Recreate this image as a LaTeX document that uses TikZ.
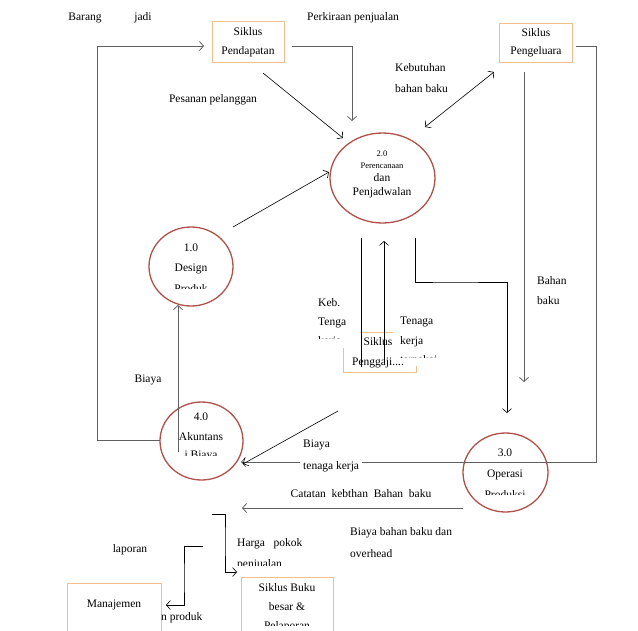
\documentclass[tikz,border=0pt]{standalone}
\usepackage{fontspec}
\setmainfont{Liberation Serif}
\usetikzlibrary{arrows.meta,shapes.geometric}
\definecolor{circ}{HTML}{B0504B}
\definecolor{boxc}{HTML}{F0C08C}
\definecolor{ln}{HTML}{606060}
\newcommand{\cliptxt}[5]{\begin{scope}\clip (#2-60,#3-12) rectangle (#2+60,#4);\node[txt] (#1) at (#2,#3) {#5};\end{scope}}
\newcommand{\cliptxtw}[5]{\begin{scope}\clip (#2-5,#3-12) rectangle (#2+80,#4);\node[txt,anchor=west] (#1) at (#2,#3) {#5};\end{scope}}
\begin{document}
\begin{tikzpicture}[x=1pt,y=-1pt,
  txt/.style={inner sep=0pt, font=\fontsize{11.5}{13}\selectfont},
  sml/.style={inner sep=0pt, font=\fontsize{8.5}{10}\selectfont},
  proc/.style={draw=circ, line width=1.3pt, ellipse, inner sep=0pt},
  bx/.style={draw=boxc, line width=0.8pt, rectangle, inner sep=0pt},
  bxl/.style={draw=boxc, line width=0.8pt},
  gl/.style={draw=ln, line width=0.8pt},
  bl/.style={draw=black, line width=0.6pt},
  arr/.style={-{Straight Barb[length=4pt,width=9pt]}},
  darr/.style={{Straight Barb[length=4pt,width=9pt]}-{Straight Barb[length=4pt,width=9pt]}}]
\useasboundingbox (0,0) rectangle (638,630);

% ---- boxes
\node[bx, minimum width=72pt, minimum height=41pt] (pend) at (248,41.5) {};
\node[txt] (pendA) at (248,32) {Siklus};
\node[txt] (pendB) at (248,52) {Pendapatan};
\node[bx, minimum width=73pt, minimum height=39pt] (pengl) at (535.5,42.5) {};
\node[txt] (penglA) at (536,33) {Siklus};
\node[txt] (penglB) at (536,52) {Pengeluara};
\node[bx, minimum width=92pt, minimum height=63pt] (buku) at (287,608.5) {};
\node[txt] (bukuA) at (287,588) {Siklus Buku};
\node[txt] (bukuB) at (287,607) {besar \&};
\cliptxt{bukuC}{287}{627}{625.5}{Pelaporan}
\node[bx, minimum width=94pt, minimum height=57pt] (mgr) at (114,611.5) {};
\node[txt] (mgrA) at (114,605) {Manajemen};
\node[draw=none, minimum width=73pt, minimum height=40pt] (pgj) at (379.5,352) {};
\draw[bxl] (360,332) -- (393,332);
\draw[bxl] (343,348) -- (343,372) -- (416,372) -- (416,366);
\node[txt] (pgjA) at (378,342) {Siklus};
\node[txt] (pgjB) at (378,363) {Penggaji....};

% ---- processes
\node[proc, minimum width=105pt, minimum height=90pt] (p2) at (382.5,178) {};
\node[sml] (p2a) at (382,154) {2.0};
\node[sml] (p2b) at (382,166) {Perencanaan};
\node[txt] (p2c) at (382,178) {dan};
\node[txt] (p2d) at (382,193) {Penjadwalan};
\node[proc, minimum width=84pt, minimum height=79pt] (p1) at (191,266.5) {};
\node[txt] (p1a) at (191,248) {1.0};
\node[txt] (p1b) at (191,269) {Design};
\cliptxt{p1c}{191}{289}{288.5}{Produk}
\node[proc, minimum width=83pt, minimum height=78pt] (p4) at (201.5,441) {};
\node[txt] (p4a) at (201,417) {4.0};
\node[txt] (p4b) at (201,437) {Akuntans};
\cliptxt{p4c}{201}{456}{455.5}{i Biaya}
\node[proc, minimum width=85pt, minimum height=79pt] (p3) at (505.5,472.5) {};
\node[txt] (p3a) at (505,453) {3.0};
\node[txt] (p3b) at (505,475) {Operasi};
\cliptxt{p3c}{505}{495}{494.5}{Produksi}

% ---- coordinates
\coordinate (a1) at (97,46);
\coordinate (a2) at (204,46);
\coordinate (a3) at (160,440);
\coordinate (b1) at (292,46);
\coordinate (b2) at (352,121);
\coordinate (c1) at (263,73);
\coordinate (c2) at (343,138);
\coordinate (d1) at (425,127);
\coordinate (d2) at (494,72);
\coordinate (e1) at (524,72);
\coordinate (e2) at (524,382);
\coordinate (f1) at (576,46);
\coordinate (f2) at (596,462);
\coordinate (f3) at (241,462);
\coordinate (g1) at (415,238);
\coordinate (g2) at (507,413);
\coordinate (h1) at (361,238);
\coordinate (h2) at (361,367);
\coordinate (i1) at (384,363);
\coordinate (i2) at (384,241);
\coordinate (j1) at (233,227);
\coordinate (j2) at (329,172);
\coordinate (k1) at (178,452);
\coordinate (k2) at (178,305);
\coordinate (l1) at (338,411);
\coordinate (l2) at (243,464);
\coordinate (m1) at (463,508);
\coordinate (m2) at (242,508);
\coordinate (n1) at (212,514);
\coordinate (n2) at (237,572);
\coordinate (o1) at (203,546);
\coordinate (o2) at (166,605);

% ---- connectors
\draw[gl,arr] (a3) -| (a1) -- (a2);
\draw[gl,arr] (b1) -| (b2);
\draw[bl,arr] (c1) -- (c2);
\draw[bl,darr] (d1) -- (d2);
\draw[gl,arr] (e1) -- (e2);
\draw[gl,arr] (f1) -| (f2) -- (f3);
\draw[bl,arr] (g1) |- (450,282) -| (g2);
\draw[bl] (h1) -- (h2);
\draw[bl,arr] (i1) -- (i2);
\draw[bl,arr] (j1) -- (j2);
\draw[gl,arr] (k1) -- (k2);
\draw[bl,arr] (l1) -- (l2);
\draw[gl,arr] (m1) -- (m2);
\draw[bl,arr] (n1) -| (225,540) |- (n2);
\draw[bl,arr] (o1) -| (184,580) |- (o2);

% ---- labels
\node[txt] (t1) at (85,18) {Barang};
\node[txt] (t2) at (143,18) {jadi};
\node[txt,anchor=west] (t3) at (307,18) {Perkiraan penjualan};
\node[txt] (t4) at (213,100) {Pesanan pelanggan};
\node[txt,anchor=west] (t5) at (395,68) {Kebutuhan};
\node[txt,anchor=west] (t6) at (395,89) {bahan baku};
\node[txt,anchor=west] (t7) at (537,281) {Bahan};
\node[txt,anchor=west] (t8) at (537,301) {baku};
\node[txt,anchor=west] (t9) at (318,303) {Keb.};
\node[txt,anchor=west] (t10) at (318,323) {Tenga};
\cliptxtw{t11}{318}{342}{338.5}{kerja}
\node[txt,anchor=west] (t12) at (400,322) {Tenaga};
\node[txt,anchor=west] (t13) at (400,342) {kerja};
\cliptxtw{t14}{400}{361}{357.5}{terpakai}
\node[txt] (t15) at (148,380) {Biaya};
\node[txt,anchor=west,fill=white,inner xsep=3pt] (t16) at (300,445) {Biaya};
\node[txt,anchor=west,fill=white,inner xsep=3pt,inner ysep=1pt] (t17) at (300,467) {tenaga kerja};
\node[txt] (t18) at (361,494) {Catatan\ \ kebthan\ \ Bahan\ \ baku};
\node[txt,anchor=west] (t19) at (350,533) {Biaya bahan baku dan};
\node[txt,anchor=west] (t20) at (350,554) {overhead};
\node[txt,anchor=west] (t21) at (237,544) {Harga\ \ \ pokok};
\cliptxtw{t22}{237}{565}{565.5}{penjualan}
\node[txt] (t23) at (130,550) {laporan};
\node[txt,anchor=west] (t24) at (161,618) {n produk};
\end{tikzpicture}
\end{document}
